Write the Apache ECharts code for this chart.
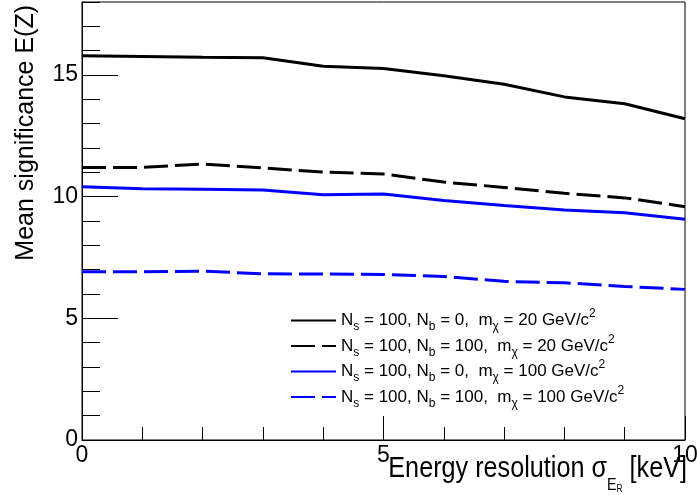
<html>
<head>
    <script src="https://cdn.jsdelivr.net/npm/echarts@6/dist/echarts.min.js"></script>
</head>
<body style="margin:0;background:#fff">
    <div id="main" style="width:697px;height:495px;"></div>
    <script>
        // energy resolution (keV) and mean significance for each setup
        var resolution = [0, 1, 2, 3, 4, 5, 6, 7, 8, 9, 10];
        var sigB0M20 = [15.79, 15.76, 15.73, 15.71, 15.36, 15.27, 14.97, 14.62, 14.10, 13.82, 13.20];
        var sigB100M20 = [11.20, 11.20, 11.34, 11.18, 11.01, 10.93, 10.60, 10.38, 10.14, 9.95, 9.59];
        var sigB0M100 = [10.41, 10.33, 10.30, 10.27, 10.08, 10.11, 9.84, 9.64, 9.45, 9.34, 9.07];
        var sigB100M100 = [6.91, 6.91, 6.94, 6.83, 6.82, 6.80, 6.72, 6.52, 6.46, 6.31, 6.19];

        var seriesNames = ['b0m20', 'b100m20', 'b0m100', 'b100m100'];
        var legendLabels = {
            b0m20: '{t|N}{sub|s}{t| = 100, N}{sub|b}{t| = 0,  m}{sub|χ}{t| = 20 GeV/c}{sup|2}',
            b100m20: '{t|N}{sub|s}{t| = 100, N}{sub|b}{t| = 100,  m}{sub|χ}{t| = 20 GeV/c}{sup|2}',
            b0m100: '{t|N}{sub|s}{t| = 100, N}{sub|b}{t| = 0,  m}{sub|χ}{t| = 100 GeV/c}{sup|2}',
            b100m100: '{t|N}{sub|s}{t| = 100, N}{sub|b}{t| = 100,  m}{sub|χ}{t| = 100 GeV/c}{sup|2}'
        };

        var font = 'Liberation Sans';

        function pairs(ys) {
            var out = [];
            for (var i = 0; i < resolution.length; i++) out.push([resolution[i], ys[i]]);
            return out;
        }

        function makeSeries(name, ys, color, dashed) {
            return {
                name: name,
                type: 'line',
                data: pairs(ys),
                symbol: 'none',
                showSymbol: false,
                yAxisIndex: 0,
                lineStyle: { color: color, width: 3, type: dashed ? [24, 7] : 'solid' },
                itemStyle: { color: color },
                silent: true
            };
        }

        var myChart = echarts.init(document.getElementById('main'));

        var option = {
            animation: false,
            backgroundColor: '#fff',
            grid: {
                left: 82, right: 12, top: 2, bottom: 55,
                show: true, borderColor: '#000', borderWidth: 1,
                containLabel: false, outerBoundsMode: 'none'
            },
            legend: {
                orient: 'vertical',
                left: 290, top: 308,
                padding: 0,
                itemWidth: 45, itemHeight: 14, itemGap: 0.5,
                selectedMode: false,
                data: seriesNames,
                itemStyle: { opacity: 0 },
                formatter: function (name) { return legendLabels[name]; },
                textStyle: {
                    color: '#000',
                    rich: {
                        t: { fontSize: 17, fontFamily: font, lineHeight: 25, color: '#000' },
                        sub: { fontSize: 12, fontFamily: font, lineHeight: 16, verticalAlign: 'bottom', color: '#000' },
                        sup: { fontSize: 12, fontFamily: font, lineHeight: 16, verticalAlign: 'top', color: '#000' }
                    }
                }
            },
            xAxis: {
                type: 'value', min: 0, max: 10, interval: 5,
                axisLine: { lineStyle: { color: '#000', width: 1 } },
                axisTick: { inside: true, length: 24, lineStyle: { color: '#000' } },
                minorTick: { show: true, splitNumber: 5, length: 13, lineStyle: { color: '#000' } },
                splitLine: { show: false },
                axisLabel: { fontSize: 23, fontFamily: font, color: '#000', margin: 4 }
            },
            yAxis: [{
                type: 'value', min: 0, max: 18, interval: 5,
                axisLine: { lineStyle: { color: '#000', width: 1 } },
                axisTick: { inside: true, length: 36, lineStyle: { color: '#000' } },
                splitLine: { show: false },
                axisLabel: { fontSize: 23, fontFamily: font, color: '#000', margin: 4, showMaxLabel: false }
            }, {
                type: 'value', min: 0, max: 18, interval: 1, position: 'left',
                axisLine: { show: false },
                axisTick: { inside: true, length: 18, lineStyle: { color: '#000' } },
                splitLine: { show: false },
                axisLabel: { show: false }
            }],
            graphic: [{
                type: 'text', x: 26, y: 5, rotation: Math.PI / 2,
                style: {
                    text: 'Mean significance E(Z)', fontSize: 25, fontFamily: font,
                    fill: '#000', align: 'right', verticalAlign: 'middle'
                }
            }, {
                type: 'text', x: 687, y: 444, scaleX: 0.84,
                style: {
                    text: '{t|Energy resolution σ}{e|E}{r|R}{t| [keV]}',
                    align: 'right', verticalAlign: 'top', fill: '#000',
                    rich: {
                        t: { fontSize: 30, fontFamily: font, lineHeight: 50, fill: '#000' },
                        e: { fontSize: 17, fontFamily: font, lineHeight: 31, verticalAlign: 'bottom', fill: '#000' },
                        r: { fontSize: 10, fontFamily: font, lineHeight: 12, verticalAlign: 'bottom', fill: '#000' }
                    }
                }
            }],
            series: [
                makeSeries('b0m20', sigB0M20, '#000', false),
                makeSeries('b100m20', sigB100M20, '#000', true),
                makeSeries('b0m100', sigB0M100, '#0000ff', false),
                makeSeries('b100m100', sigB100M100, '#0000ff', true)
            ]
        };

        myChart.setOption(option);
    </script>
</body>
</html>
